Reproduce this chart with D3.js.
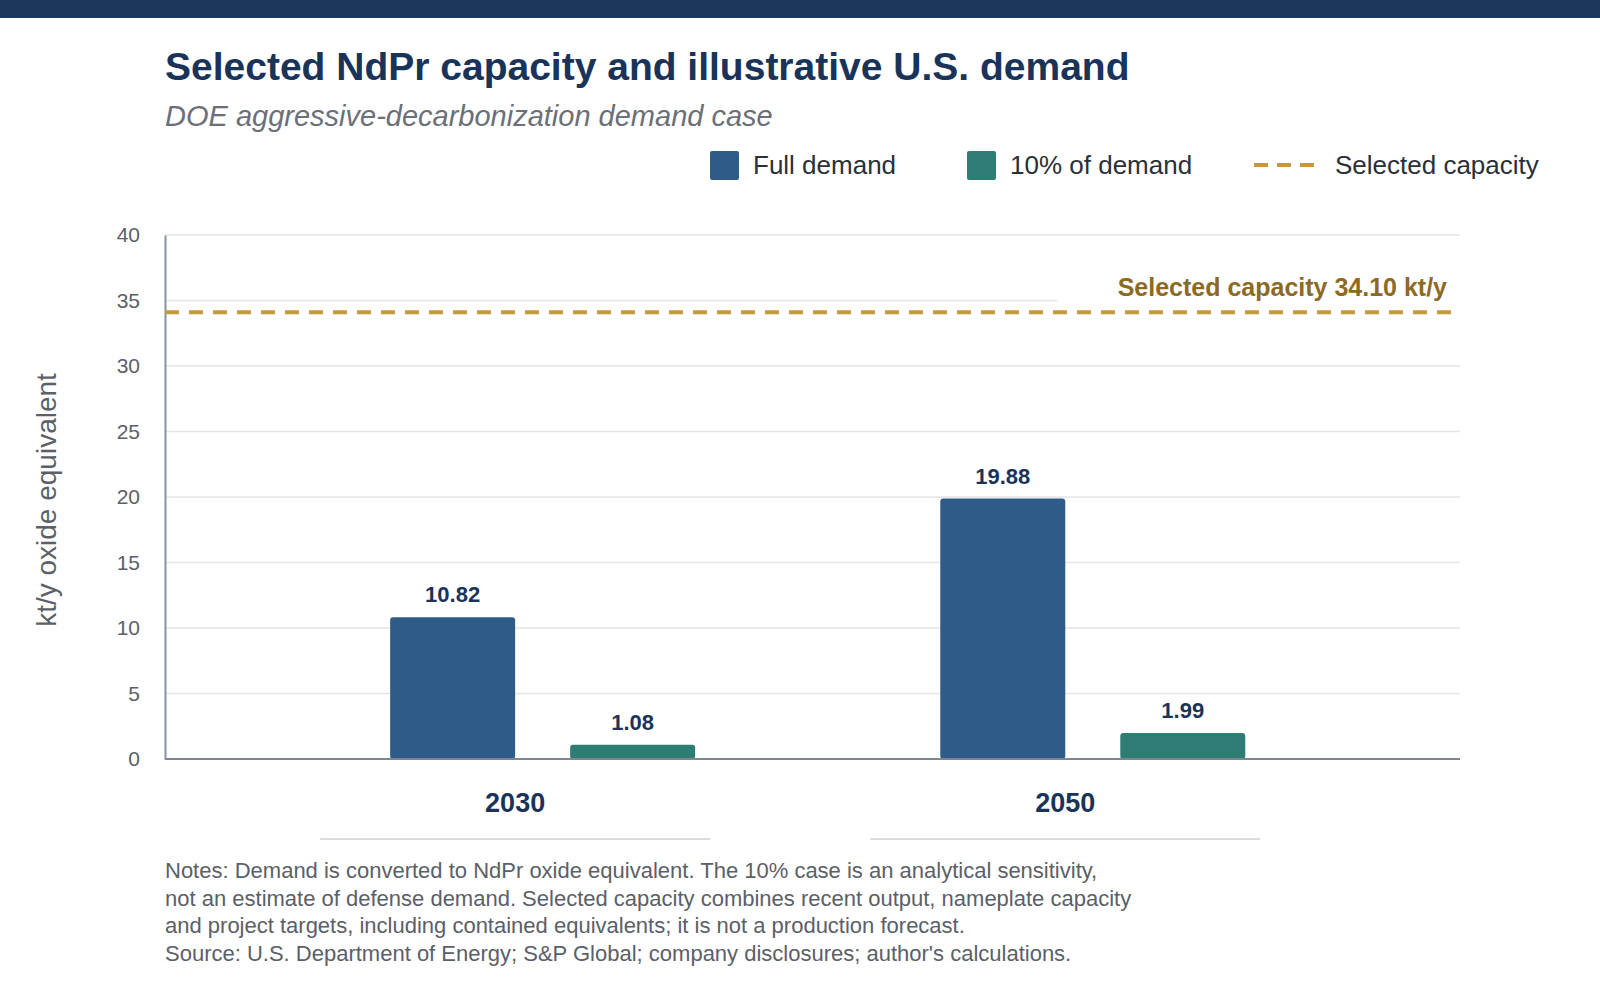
<!DOCTYPE html>
<html>
<head>
<meta charset="utf-8">
<script src="https://cdn.jsdelivr.net/npm/d3@7"></script>
<style>
  html, body { margin: 0; padding: 0; background: #fff; }
  svg { display: block; font-family: "Liberation Sans", Arial, Helvetica, sans-serif; }
</style>
</head>
<body>
<svg id="chart" width="1600" height="1000"></svg>
<script>
// ---- data ----
const years = ["2030", "2050"];
const seriesKeys = ["full", "ten"];
const seriesNames = ["Full demand", "10% of demand"];
const fullDemand = [10.82, 19.88];
const tenPctDemand = [1.08, 1.99];
const selectedCapacity = 34.10;
const yTicks = [0, 5, 10, 15, 20, 25, 30, 35, 40];
const titleText = "Selected NdPr capacity and illustrative U.S. demand";
const subtitleText = "DOE aggressive-decarbonization demand case";
const yAxisTitle = "kt/y oxide equivalent";
const capacityLegend = "Selected capacity";
const capacityLabel = "Selected capacity 34.10 kt/y";
const notes = [
  "Notes: Demand is converted to NdPr oxide equivalent. The 10% case is an analytical sensitivity,",
  "not an estimate of defense demand. Selected capacity combines recent output, nameplate capacity",
  "and project targets, including contained equivalents; it is not a production forecast.",
  "Source: U.S. Department of Energy; S&P Global; company disclosures; author's calculations."
];

const colors = { full: "#2e5b88", ten: "#2d7d74", cap: "#c49a3c", capText: "#8c6a1f", navy: "#1b365d" };

const rows = years.map((y, i) => ({ year: y, full: fullDemand[i], ten: tenPctDemand[i] }));

// ---- layout ----
const svg = d3.select("#chart");
const plot = { left: 165, right: 1460, top: 235, bottom: 759 };

svg.append("rect").attr("x", 0).attr("y", 0).attr("width", 1600).attr("height", 18).attr("fill", colors.navy);

svg.append("text").attr("x", 165).attr("y", 80)
  .attr("font-size", 39).attr("font-weight", 700).attr("fill", "#1a3358").text(titleText);
svg.append("text").attr("x", 165).attr("y", 126)
  .attr("font-size", 29).attr("font-style", "italic").attr("fill", "#6b6f78").text(subtitleText);

// ---- scales ----
const y = d3.scaleLinear().domain([0, 40]).range([plot.bottom, plot.top]);
const x0 = d3.scalePoint().domain(years).range([plot.left, plot.right]).padding(0.677).align(0.507);
const groupW = 305;
const x1 = d3.scaleBand().domain(seriesKeys).range([-groupW / 2, groupW / 2]).paddingInner(0.3056);

// gridlines
const gGrid = svg.append("g");
gGrid.selectAll("line").data(yTicks.filter(t => t > 0)).join("line")
  .attr("x1", plot.left).attr("x2", plot.right)
  .attr("y1", d => y(d)).attr("y2", d => y(d))
  .attr("stroke", "#e3e5e8").attr("stroke-width", 1.5);

// y axis
const yAxis = d3.axisLeft(y).tickValues(yTicks).tickSize(0).tickPadding(25);
const gy = svg.append("g").attr("transform", `translate(${plot.left},0)`).call(yAxis);
gy.select(".domain").attr("stroke", "#8592a0").attr("stroke-width", 2);
gy.selectAll("text").attr("font-size", 21).attr("fill", "#5b6068").attr("font-family", "Liberation Sans, Arial, sans-serif");

svg.append("text")
  .attr("transform", `translate(56,${(plot.top + plot.bottom) / 2 + 3}) rotate(-90)`)
  .attr("text-anchor", "middle").attr("font-size", 28).attr("fill", "#5b6068").text(yAxisTitle);

// bars
const gBars = svg.append("g");
const groups = gBars.selectAll("g").data(rows).join("g")
  .attr("transform", d => `translate(${x0(d.year)},0)`);
groups.selectAll("rect").data(d => seriesKeys.map(k => ({ key: k, value: d[k] }))).join("rect")
  .attr("x", d => x1(d.key)).attr("width", x1.bandwidth())
  .attr("y", d => y(d.value)).attr("height", d => y(0) - y(d.value))
  .attr("rx", 3).attr("fill", d => colors[d.key]);
groups.selectAll("text.val").data(d => seriesKeys.map(k => ({ key: k, value: d[k] }))).join("text")
  .attr("class", "val")
  .attr("x", d => x1(d.key) + x1.bandwidth() / 2).attr("y", d => y(d.value) - 15)
  .attr("text-anchor", "middle").attr("font-size", 22).attr("font-weight", 700).attr("fill", "#1a3358")
  .text(d => d.value.toFixed(2));

// x axis baseline
svg.append("line").attr("x1", plot.left).attr("x2", plot.right)
  .attr("y1", y(0)).attr("y2", y(0)).attr("stroke", "#7d8792").attr("stroke-width", 2);

// year labels + underline
const labelX = d => x0(d) + x1("full") + x1.bandwidth();
svg.append("g").selectAll("text").data(years).join("text")
  .attr("x", labelX).attr("y", 812).attr("text-anchor", "middle")
  .attr("font-size", 27).attr("font-weight", 700).attr("fill", "#1a3358").text(d => d);
svg.append("g").selectAll("line").data(years).join("line")
  .attr("x1", d => labelX(d) - 195).attr("x2", d => labelX(d) + 195)
  .attr("y1", 839).attr("y2", 839).attr("stroke", "#dcdcdc").attr("stroke-width", 2);

// capacity label with white background
const capLabel = svg.append("g");
const capText = capLabel.append("text").attr("x", 1447).attr("y", 296).attr("text-anchor", "end")
  .attr("font-size", 25).attr("font-weight", 700).attr("fill", colors.capText).text(capacityLabel);
const bb = capText.node().getBBox();
capLabel.insert("rect", "text").attr("x", bb.x - 60).attr("y", bb.y - 4)
  .attr("width", plot.right - (bb.x - 60)).attr("height", y(selectedCapacity) - 4 - (bb.y - 4))
  .attr("fill", "#fff");

// capacity line
svg.append("line").attr("x1", plot.left).attr("x2", plot.right)
  .attr("y1", y(selectedCapacity)).attr("y2", y(selectedCapacity))
  .attr("stroke", colors.cap).attr("stroke-width", 4).attr("stroke-dasharray", "14 10");

// legend
const leg = svg.append("g");
const legY = 165;
const legItems = [
  { type: "rect", color: colors.full, label: seriesNames[0], x: 710 },
  { type: "rect", color: colors.ten, label: seriesNames[1], x: 967 },
  { type: "line", color: colors.cap, label: capacityLegend, x: 1254 }
];
legItems.forEach(it => {
  if (it.type === "rect") {
    leg.append("rect").attr("x", it.x).attr("y", legY - 14).attr("width", 29).attr("height", 29)
      .attr("rx", 2).attr("fill", it.color);
    leg.append("text").attr("x", it.x + 43).attr("y", legY + 9).attr("font-size", 26).attr("fill", "#2b2f36").text(it.label);
  } else {
    leg.append("line").attr("x1", it.x).attr("x2", it.x + 60).attr("y1", legY).attr("y2", legY)
      .attr("stroke", it.color).attr("stroke-width", 4).attr("stroke-dasharray", "14 9");
    leg.append("text").attr("x", it.x + 81).attr("y", legY + 9).attr("font-size", 26).attr("fill", "#2b2f36").text(it.label);
  }
});

// notes
svg.append("g").selectAll("text").data(notes).join("text")
  .attr("x", 165).attr("y", (d, i) => 878 + i * 27.7)
  .attr("font-size", 22).attr("fill", "#5b6068").text(d => d);
</script>
</body>
</html>
